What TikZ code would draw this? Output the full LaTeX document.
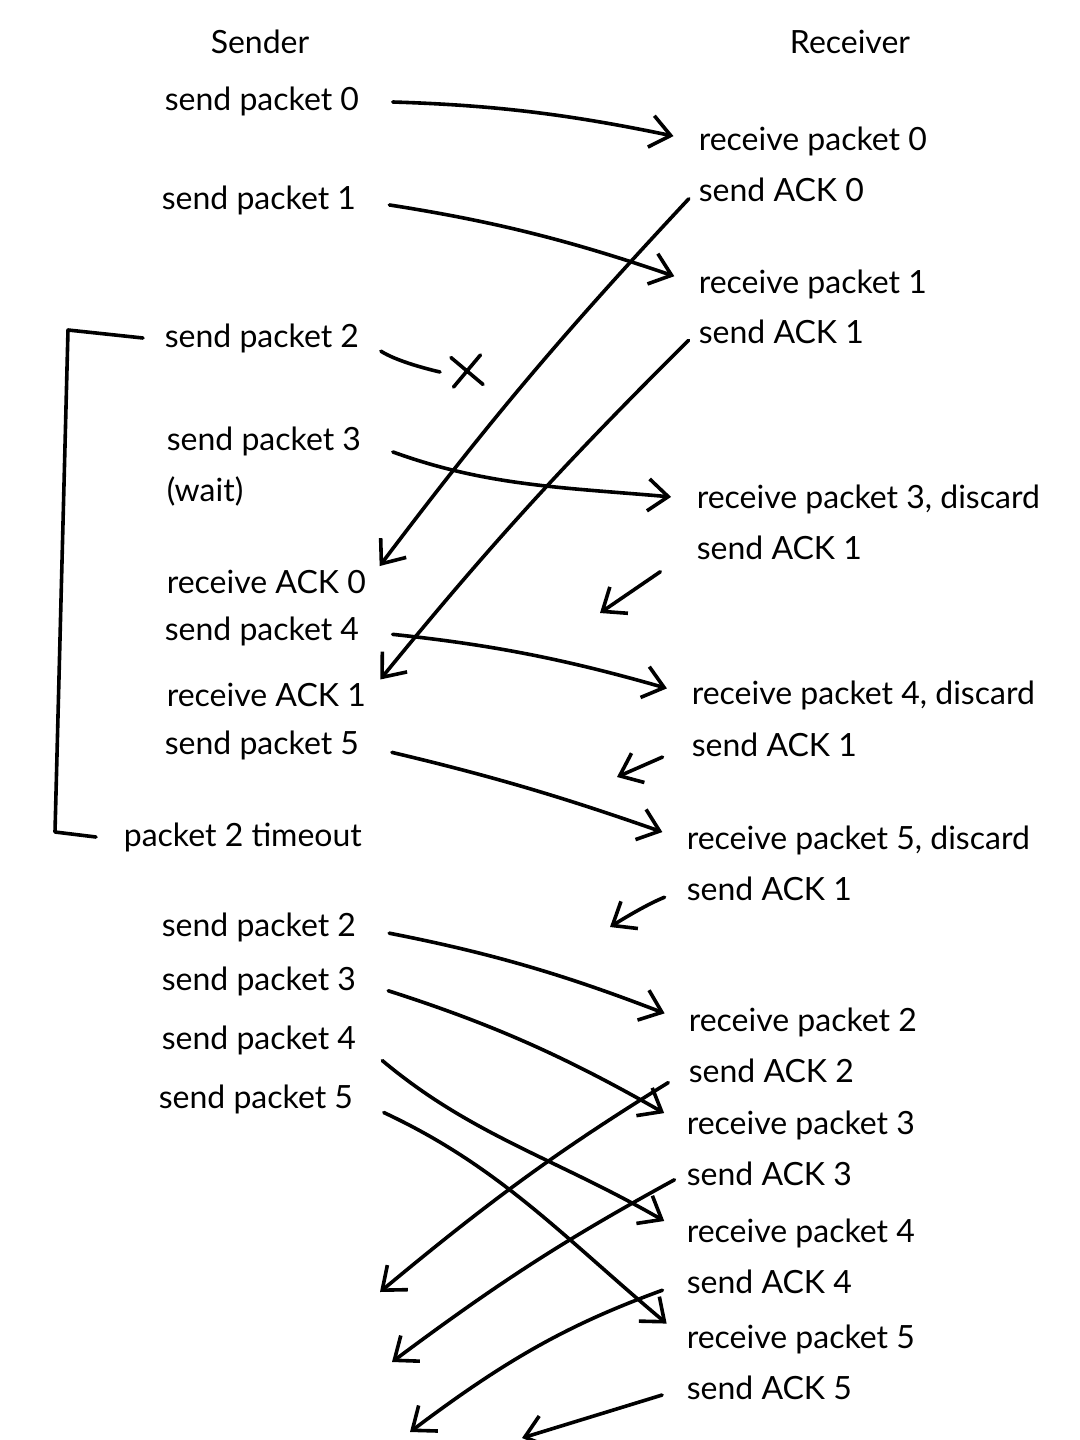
\documentclass[tikz,border=0pt]{standalone}
\usepackage{fontspec}
\setmainfont{Lato}
\usetikzlibrary{arrows.meta,shapes.misc}

\tikzset{
  msg/.style={anchor=west, inner xsep=0pt, inner ysep=2pt, font=\fontsize{16}{19}\selectfont},
  head/.style={inner sep=2pt, font=\fontsize{16}{19}\selectfont},
  wire/.style={line width=1.8pt, line cap=round, line join=round,
    -{Straight Barb[length=10pt,width=16pt,line width=1.8pt]}},
  pkt/.style={shorten <=16pt, shorten >=12pt},
  ack/.style={shorten <=6pt, shorten >=10pt},
}

\begin{document}
\begin{tikzpicture}[x=0.5pt, y=-0.5pt, wire]
  \useasboundingbox (0,0) rectangle (1080,1440);

  % headings
  \node[head] (snd) at (260,42) {Sender};
  \node[head] (rcv) at (850,42) {Receiver};

  % sender side
  \node[msg] (s0) at (163,101) {send packet 0};
  \node[msg] (s1) at (160,200) {send packet 1};
  \node[msg] (s2) at (163,338) {send packet 2};
  \node[msg] (s3) at (165,441) {send packet 3};
  \node[msg] (wt) at (165,491) {(wait)};
  \node[msg] (k0) at (165,582) {receive ACK 0};
  \node[msg] (s4) at (163,631) {send packet 4};
  \node[msg] (k1) at (165,695) {receive ACK 1};
  \node[msg] (s5) at (163,745) {send packet 5};
  \node[msg] (to) at (122,837) {packet 2 timeout};
  \node[msg] (t2) at (160,927) {send packet 2};
  \node[msg] (t3) at (160,981) {send packet 3};
  \node[msg] (t4) at (160,1040) {send packet 4};
  \node[msg] (t5) at (157,1099) {send packet 5};

  % receiver side
  \node[msg] (r0) at (697,141) {receive packet 0};
  \node[msg] (a0) at (697,190) {send ACK 0};
  \node[msg] (r1) at (697,284) {receive packet 1};
  \node[msg] (a1) at (697,332) {send ACK 1};
  \node[msg] (r3) at (695,499) {receive packet 3, discard};
  \node[msg] (b3) at (695,548) {send ACK 1};
  \node[msg] (r4) at (690,695) {receive packet 4, discard};
  \node[msg] (b4) at (690,745) {send ACK 1};
  \node[msg] (r5) at (685,840) {receive packet 5, discard};
  \node[msg] (b5) at (685,889) {send ACK 1};
  \node[msg] (q2) at (687,1022) {receive packet 2};
  \node[msg] (c2) at (687,1071) {send ACK 2};
  \node[msg] (q3) at (685,1125) {receive packet 3};
  \node[msg] (c3) at (685,1174) {send ACK 3};
  \node[msg] (q4) at (685,1233) {receive packet 4};
  \node[msg] (c4) at (685,1282) {send ACK 4};
  \node[msg] (q5) at (685,1339) {receive packet 5};
  \node[msg] (c5) at (685,1388) {send ACK 5};

  % loose ends
  \coordinate (lost) at (440,372);
  \node[cross out, draw, line width=1.8pt, minimum size=13pt, rotate=5] (x) at (467,371) {};
  \coordinate (e1) at (600,613);
  \coordinate (e2) at (617,777);
  \coordinate (e3) at (610,927);
  \coordinate (e4) at (380,1292);
  \coordinate (e5) at (392,1362);
  \coordinate (e6) at (410,1432);
  \coordinate (e7) at (522,1438);

  \path
  (s0.east) edge[pkt, bend left=5] (r0.west)
  (s1.east) edge[pkt, bend left=5] (r1.west)
  (s2.east) edge[-, shorten <=12pt, bend right=10] (lost)
  (s3.east) edge[pkt, out=-20, in=175] (r3.west)
  (a0.west) edge[ack, bend right=3] (k0.east)
  (a1.west) edge[ack, bend right=3] (k1.east)
  (s4.east) edge[pkt, bend left=5] (r4.west)
  (b3.west) edge[shorten <=21pt] (e1)
  (s5.east) edge[pkt, bend left=3] (r5.west)
  (b4.west) edge[shorten <=15pt] (e2)
  (b5.west) edge[shorten <=11pt, bend right=5] (e3)
  (t2.east) edge[pkt, bend left=5] (q2.west)
  (t3.east) edge[pkt, bend left=6] (q3.west)
  (t4.east) edge[pkt, out=-40, in=150] (q4.west)
  (t5.east) edge[pkt, out=-25, in=140] (q5.west)
  (c2.west) edge[shorten <=11pt, bend right=4] (e4)
  (c3.west) edge[shorten <=6pt, bend right=4] (e5)
  (c4.west) edge[shorten <=12pt, out=200, in=37] (e6)
  (c5.west) edge[shorten <=12pt] (e7);

  % timeout bracket
  \draw[-] ([xshift=-10pt]s2.west) -- (68,330) -- (55,832) -- ([xshift=-13pt]to.west);
\end{tikzpicture}
\end{document}
